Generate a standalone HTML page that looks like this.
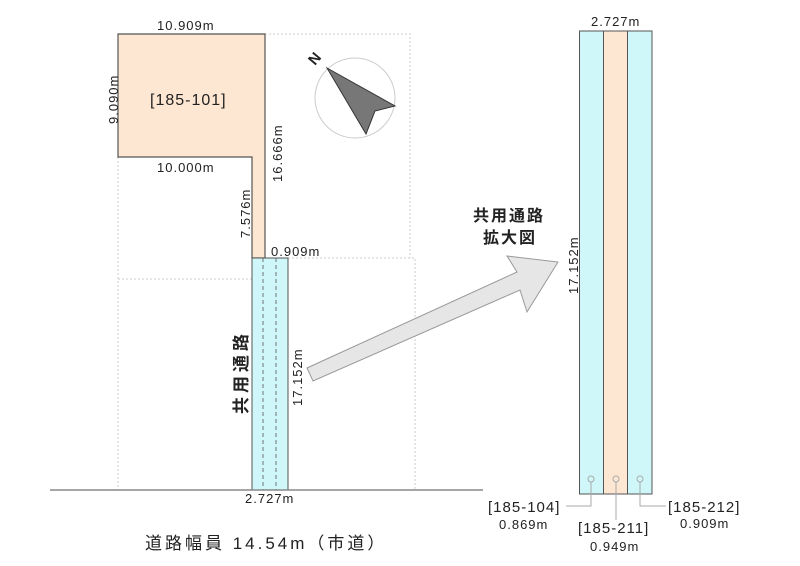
<!DOCTYPE html>
<html><head><meta charset="utf-8"><style>
body{margin:0;background:#fff;}
svg{display:block;}
text{font-family:"Liberation Sans","Noto Sans CJK JP",sans-serif;fill:#222;}
</style></head><body>
<svg width="800" height="566" viewBox="0 0 800 566" xmlns="http://www.w3.org/2000/svg">
<g stroke="#ccc" stroke-width="1" stroke-dasharray="2,2" fill="none">
<polyline points="265,34 410,34 410,258"/>
<polyline points="288,258 415,258 415,490"/>
<line x1="118" y1="157" x2="118" y2="490"/>
<line x1="118" y1="279" x2="252" y2="279"/>
</g>
<polygon points="118,34 265,34 265,258 252,258 252,157 118,157" fill="#fde6d2" stroke="#555" stroke-width="1.2"/>
<rect x="252" y="258" width="36" height="232" fill="#cff6f8" stroke="#555" stroke-width="1"/>
<g stroke="#555" stroke-width="0.8" stroke-dasharray="4,3">
<line x1="263" y1="258" x2="263" y2="490"/><line x1="276" y1="258" x2="276" y2="490"/>
</g>
<line x1="50" y1="490" x2="483" y2="490" stroke="#888" stroke-width="1.5"/>
<circle cx="355" cy="98" r="40" fill="none" stroke="#ccc" stroke-width="1"/>
<polygon points="327,68 395,106 375,111 366,134" fill="#777" stroke="#333" stroke-width="1"/>
<text x="0" y="0" font-size="15" font-weight="bold" transform="translate(315,66) rotate(-50)">N</text>
<polygon points="307,368 517,272 507,256 558,262 527,312 520,290 313,381" fill="#e6e6e6" stroke="#999" stroke-width="1"/>
<rect x="579.5" y="31" width="24" height="463" fill="#cff6f8" stroke="#555"/>
<rect x="603.5" y="31" width="24" height="463" fill="#fde6d2" stroke="#555"/>
<rect x="627.5" y="31" width="24.5" height="463" fill="#cff6f8" stroke="#555"/>
<g stroke="#aaa" fill="none" stroke-width="1">
<circle cx="591" cy="479" r="3"/><circle cx="616" cy="479" r="3"/><circle cx="640" cy="479" r="3"/>
<polyline points="591,482 591,506 566,506"/>
<line x1="616" y1="482" x2="616" y2="520"/>
<polyline points="640,482 640,506 666,506"/>
</g>
<g font-size="13" letter-spacing="1">
<text x="157" y="30">10.909m</text>
<text x="150" y="105" font-size="16">[185-101]</text>
<text x="157" y="172">10.000m</text>
<text x="271" y="256">0.909m</text>
<text x="245" y="503">2.727m</text>
<text x="591" y="26">2.727m</text>
<text x="488" y="512" font-size="15">[185-104]</text>
<text x="499" y="529">0.869m</text>
<text x="578" y="533" font-size="15">[185-211]</text>
<text x="590" y="551">0.949m</text>
<text x="668" y="512" font-size="15">[185-212]</text>
<text x="680" y="528">0.909m</text>
<text transform="translate(118,124) rotate(-90)">9.090m</text>
<text transform="translate(282,182) rotate(-90)">16.666m</text>
<text transform="translate(250,238) rotate(-90)">7.576m</text>
<text transform="translate(302,406) rotate(-90)">17.152m</text>
<text transform="translate(578,294) rotate(-90)">17.152m</text>
</g>
<text transform="translate(247,414) rotate(-90)" font-size="17" font-weight="bold" letter-spacing="4">共用通路</text>
<text x="473" y="221" font-size="16" font-weight="bold" letter-spacing="2">共用通路</text>
<text x="483" y="243" font-size="16" font-weight="bold" letter-spacing="2">拡大図</text>
<text x="145" y="549" font-size="17" letter-spacing="3">道路幅員 14.54m（市道）</text>
</svg>
</body></html>
